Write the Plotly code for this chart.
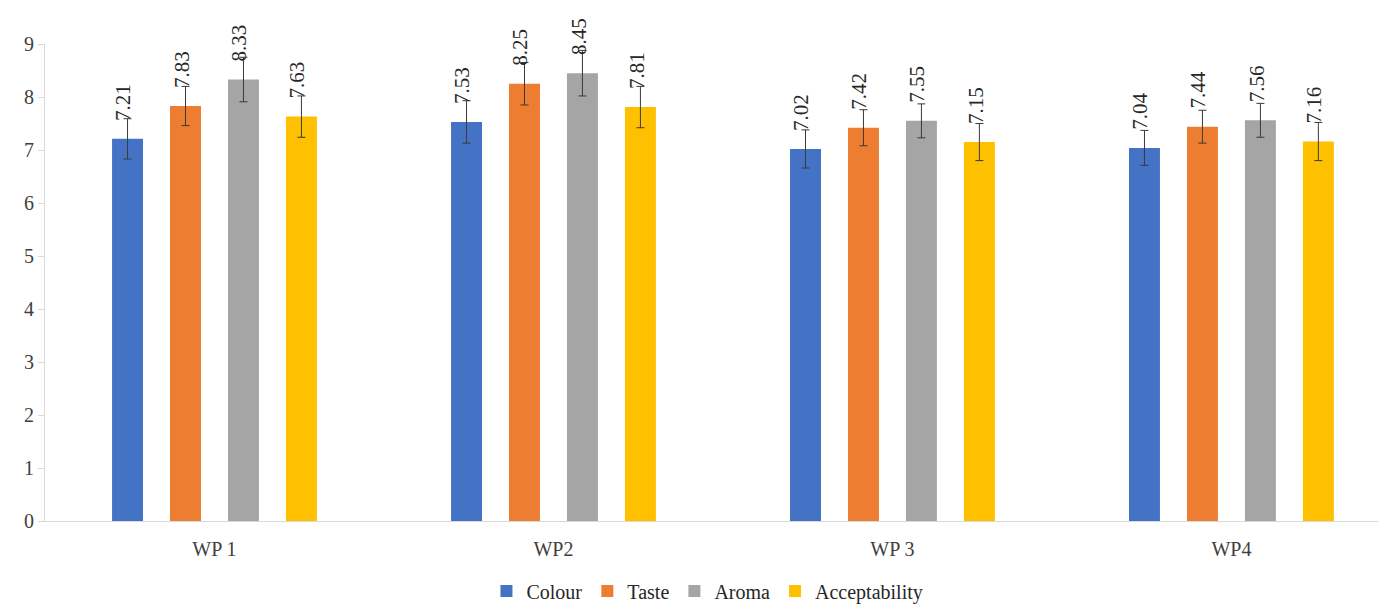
import plotly.graph_objects as go

categories = ["WP 1", "WP2", "WP 3", "WP4"]
series_names = ["Colour", "Taste", "Aroma", "Acceptability"]
colour = [7.21, 7.53, 7.02, 7.04]
taste = [7.83, 8.25, 7.42, 7.44]
aroma = [8.33, 8.45, 7.55, 7.56]
acceptability = [7.63, 7.81, 7.15, 7.16]
colour_err = [0.38, 0.40, 0.36, 0.33]
taste_err = [0.37, 0.40, 0.34, 0.31]
aroma_err = [0.42, 0.43, 0.32, 0.32]
acceptability_err = [0.39, 0.39, 0.35, 0.36]
colors = ["#4472C4", "#ED7D31", "#A5A5A5", "#FFC000"]

values = [colour, taste, aroma, acceptability]
errors = [colour_err, taste_err, aroma_err, acceptability_err]

FONT = "Liberation Serif, Times New Roman, serif"
bargap = 0.316
bargroupgap = 0.466

fig = go.Figure()
for name, vals, errs, col in zip(series_names, values, errors, colors):
    fig.add_trace(go.Bar(
        name=name, x=categories, y=vals, marker_color=col,
        marker_line_width=0,
        error_y=dict(type="data", array=errs, visible=True,
                     color="#3a3a3a", thickness=1, width=4),
    ))

slot = (1 - bargap) / 4
annotations = []
for j, (vals, errs) in enumerate(zip(values, errors)):
    for i, v in enumerate(vals):
        annotations.append(dict(
            x=i + (j - 1.5) * slot, y=v, xref="x", yref="y",
            text=f"{v:.2f}", textangle=-90, showarrow=False,
            yanchor="bottom", xanchor="center", yshift=16, xshift=-4,
            font=dict(family=FONT, size=21, color="#262626"),
        ))

# page body has an 8px default margin; figure sized to fill the remaining window
fig.update_layout(
    width=1378, height=596,
    margin=dict(l=37, r=0, t=36, b=83, autoexpand=False),
    paper_bgcolor="white", plot_bgcolor="white",
    barmode="group", bargap=bargap, bargroupgap=bargroupgap,
    annotations=annotations,
    font=dict(family=FONT, size=16, color="#404040"),
    legend=dict(orientation="h", xref="paper", yref="paper",
                x=0.494, xanchor="center", y=-0.147, yanchor="middle",
                font=dict(family=FONT, size=20, color="#262626"),
                itemwidth=30, tracegroupgap=0),
    showlegend=True,
)
fig.update_xaxes(
    type="category", range=[-0.5, 3.456],
    showline=True, linecolor="#d9d9d9", linewidth=1,
    ticks="", showgrid=False, ticklabelstandoff=10,
    tickfont=dict(family=FONT, size=20, color="#404040"),
)
fig.update_yaxes(
    range=[0, 9], dtick=1, showgrid=False, zeroline=False,
    showline=True, linecolor="#d9d9d9", linewidth=1,
    ticks="outside", ticklen=6, tickcolor="#d9d9d9",
    tickfont=dict(family=FONT, size=20, color="#404040"),
)

fig.write_html("out.html")
